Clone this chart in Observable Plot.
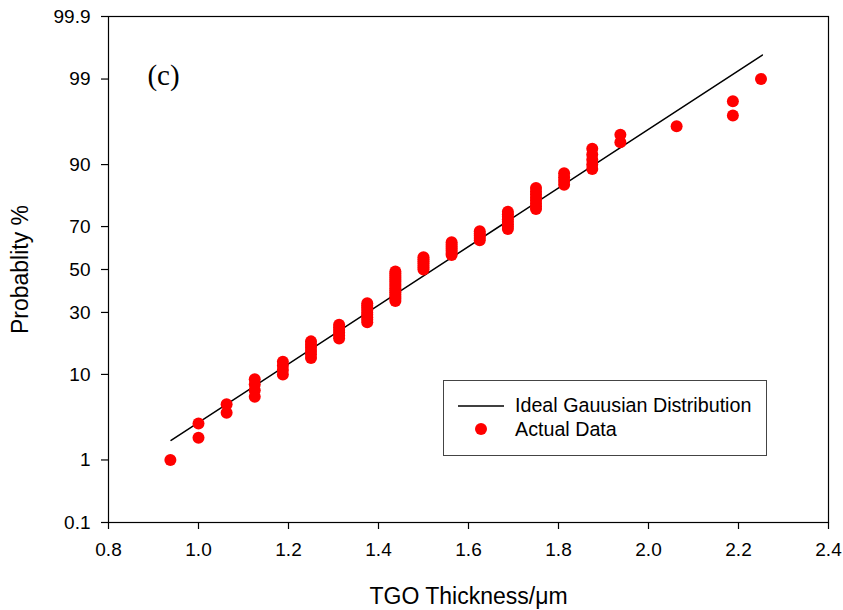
<!DOCTYPE html>
<html>
<head>
<meta charset="utf-8">
<script src="https://cdn.jsdelivr.net/npm/d3@7"></script>
<script src="https://cdn.jsdelivr.net/npm/@observablehq/plot@0.6"></script>
<style>
  html, body { margin: 0; padding: 0; background: white; }
  #wrap { position: relative; width: 843px; height: 610px; font-family: "Liberation Sans", Arial, sans-serif; }
  #legend { position: absolute; left: 443px; top: 380px; width: 324px; height: 76px; border: 1px solid #444; background: white; box-sizing: border-box; }
  .lrow { position: absolute; left: 0; font-size: 19.7px; color: black; white-space: nowrap; }
  .lsym { position: absolute; }
</style>
</head>
<body>
<div id="wrap"></div>
<script>
// Measured TGO thickness (µm) for each point, sorted
const thickness = [
  0.9375,
  1.0, 1.0,
  1.0625, 1.0625,
  1.125, 1.125, 1.125, 1.125,
  1.1875, 1.1875, 1.1875, 1.1875,
  1.25, 1.25, 1.25, 1.25, 1.25, 1.25,
  1.3125, 1.3125, 1.3125, 1.3125, 1.3125, 1.3125,
  1.375, 1.375, 1.375, 1.375, 1.375, 1.375, 1.375, 1.375, 1.375,
  1.4375, 1.4375, 1.4375, 1.4375, 1.4375, 1.4375, 1.4375, 1.4375, 1.4375, 1.4375, 1.4375, 1.4375, 1.4375, 1.4375, 1.4375,
  1.5, 1.5, 1.5, 1.5, 1.5, 1.5, 1.5,
  1.5625, 1.5625, 1.5625, 1.5625, 1.5625, 1.5625, 1.5625,
  1.625, 1.625, 1.625, 1.625, 1.625,
  1.6875, 1.6875, 1.6875, 1.6875, 1.6875, 1.6875, 1.6875, 1.6875,
  1.75, 1.75, 1.75, 1.75, 1.75, 1.75, 1.75, 1.75,
  1.8125, 1.8125, 1.8125, 1.8125,
  1.875, 1.875, 1.875, 1.875, 1.875,
  1.9375, 1.9375,
  2.0625,
  2.1875, 2.1875,
  2.25
];
// Cumulative probability (%) of each point
const probability = [
  1, 2, 3, 4, 5, 6, 7, 8, 9, 10,
  11, 12, 13, 14, 15, 16, 17, 18, 19, 20,
  21, 22, 23, 24, 25, 26, 27, 28, 29, 30,
  31, 32, 33, 34, 35, 36, 37, 38, 39, 40,
  41, 42, 43, 44, 45, 46, 47, 48, 49, 50,
  51, 52, 53, 54, 55, 56, 57, 58, 59, 60,
  61, 62, 63, 64, 65, 66, 67, 68, 69, 70,
  71, 72, 73, 74, 75, 76, 77, 78, 79, 80,
  81, 82, 83, 84, 85, 86, 87, 88, 89, 90,
  91, 92, 93, 94, 95, 96, 97, 98, 99
];
// Ideal Gaussian distribution line endpoints
const lineThickness = [0.939, 2.253];
const lineProbability = [1.84, 99.56];

// Axis ticks
const xTicks = [0.8, 1.0, 1.2, 1.4, 1.6, 1.8, 2.0, 2.2, 2.4];
const yTickValues = [0.1, 1, 10, 30, 50, 70, 90, 99, 99.9];
const yTickLabels = ["0.1", "1", "10", "30", "50", "70", "90", "99", "99.9"];

// Inverse normal CDF (Acklam)
function probit(p) {
  const a=[-3.969683028665376e+01,2.209460984245205e+02,-2.759285104469687e+02,1.383577518672690e+02,-3.066479806614716e+01,2.506628277459239e+00];
  const b=[-5.447609879822406e+01,1.615858368580409e+02,-1.556989798598866e+02,6.680131188771972e+01,-1.328068155288572e+01];
  const c=[-7.784894002430293e-03,-3.223964580411365e-01,-2.400758277161838e+00,-2.549732539343734e+00,4.374664141464968e+00,2.938163982698783e+00];
  const d=[7.784695709041462e-03,3.224671290700398e-01,2.445134137142996e+00,3.754408661907416e+00];
  const pl = 0.02425, ph = 1 - pl;
  if (p < pl) {
    const q = Math.sqrt(-2 * Math.log(p));
    return (((((c[0]*q+c[1])*q+c[2])*q+c[3])*q+c[4])*q+c[5])/((((d[0]*q+d[1])*q+d[2])*q+d[3])*q+1);
  }
  if (p <= ph) {
    const q = p - 0.5, r = q * q;
    return (((((a[0]*r+a[1])*r+a[2])*r+a[3])*r+a[4])*r+a[5])*q/(((((b[0]*r+b[1])*r+b[2])*r+b[3])*r+b[4])*r+1);
  }
  const q = Math.sqrt(-2 * Math.log(1 - p));
  return -(((((c[0]*q+c[1])*q+c[2])*q+c[3])*q+c[4])*q+c[5])/((((d[0]*q+d[1])*q+d[2])*q+d[3])*q+1);
}
const pz = (pct) => probit(pct / 100);

const points = thickness.map((t, i) => ({t, z: pz(probability[i])}));
const line = lineThickness.map((t, i) => ({t, z: pz(lineProbability[i])}));
const yTickZ = yTickValues.map(pz);
const yLabelMap = new Map(yTickZ.map((z, i) => [z, yTickLabels[i]]));

const chart = Plot.plot({
  width: 843,
  height: 610,
  marginLeft: 108,
  marginRight: 15,
  marginTop: 16,
  marginBottom: 88,
  x: {domain: [0.8, 2.4]},
  y: {domain: [pz(0.1), pz(99.9)]},
  style: {fontFamily: "'Liberation Sans', Arial, sans-serif", fontSize: "19px", color: "black", background: "white"},
  marks: [
    Plot.frame({stroke: "black", strokeWidth: 1.2}),
    Plot.axisX({ticks: xTicks, tickFormat: d3.format(".1f"), tickSize: 7, tickPadding: 13, label: null, stroke: "black", strokeWidth: 1.2, fill: "black", fontSize: 19}),
    Plot.axisY({ticks: yTickZ, tickFormat: z => yLabelMap.get(z), tickSize: 7, tickPadding: 11, label: null, stroke: "black", strokeWidth: 1.2, fill: "black", fontSize: 19}),
    Plot.line(line, {x: "t", y: "z", stroke: "black", strokeWidth: 1.5}),
    Plot.dot(points, {x: "t", y: "z", r: 6, fill: "#ff0000", stroke: "none"}),
    Plot.text(["(c)"], {frameAnchor: "top-left", dx: 55, dy: 59, fontFamily: "'Liberation Serif', 'Times New Roman', serif", fontSize: 29, textAnchor: "middle", lineAnchor: "middle", fill: "black"}),
    Plot.text(["TGO Thickness/μm"], {frameAnchor: "bottom", dy: 81, lineAnchor: "bottom", fontSize: 23, fill: "black"}),
    Plot.text(["Probablity %"], {frameAnchor: "left", dx: -88, rotate: -90, lineAnchor: "middle", textAnchor: "middle", fontSize: 23, fill: "black"})
  ]
});

const wrap = document.getElementById("wrap");
wrap.appendChild(chart);

// Legend overlay
const legend = document.createElement("div");
legend.id = "legend";
legend.innerHTML = `
  <svg class="lsym" style="left:0;top:0" width="324" height="76">
    <line x1="14" x2="60" y1="25" y2="25" stroke="black" stroke-width="1.5"></line>
    <circle cx="37" cy="48" r="6" fill="#ff0000"></circle>
  </svg>
  <div class="lrow" style="left:71px;top:13px">Ideal Gauusian Distribution</div>
  <div class="lrow" style="left:71px;top:37px">Actual Data</div>`;
wrap.appendChild(legend);
</script>
</body>
</html>
